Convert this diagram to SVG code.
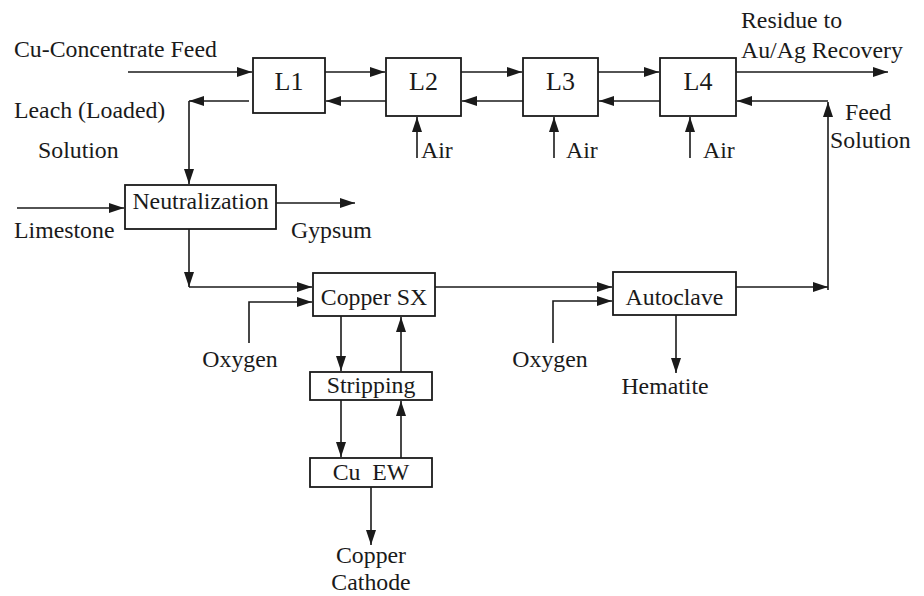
<svg xmlns="http://www.w3.org/2000/svg" width="924" height="596" viewBox="0 0 924 596">
<style>
text{font-family:"Liberation Serif","Times New Roman",serif;font-size:23.8px;fill:#1a1a1a}
.big{font-size:26px}
.c{text-anchor:middle}
rect{fill:#fff;stroke:#1a1a1a;stroke-width:1.8}
.ln{fill:none;stroke:#1a1a1a;stroke-width:1.6;marker-end:url(#ah)}
</style>
<defs>
<marker id="ah" markerUnits="userSpaceOnUse" markerWidth="16" markerHeight="12" refX="15" refY="5" orient="auto">
<path d="M0,0 L15,5 L0,10 z" fill="#1a1a1a"/>
</marker>
</defs>
<g id="connectors">
<path class="ln" d="M128,72 H252"/>
<path class="ln" d="M325,72 H385"/>
<path class="ln" d="M461,72 H522"/>
<path class="ln" d="M598,72 H659"/>
<path class="ln" d="M736,72 H888"/>
<path class="ln" d="M386,101 H326"/>
<path class="ln" d="M523,101 H462"/>
<path class="ln" d="M660,101 H599"/>
<path class="ln" d="M828,101 H737"/>
<path class="ln" d="M249,101 H189"/>
<path class="ln" d="M189,101 V184"/>
<path class="ln" d="M417,158 V117"/>
<path class="ln" d="M554,158 V117"/>
<path class="ln" d="M690,158 V117"/>
<path class="ln" d="M17,208 H124"/>
<path class="ln" d="M276,203 H355"/>
<path class="ln" d="M189,229 V287"/>
<path class="ln" d="M189,287 H312"/>
<path class="ln" d="M249,343 V302 H312"/>
<path class="ln" d="M435,287 H612"/>
<path class="ln" d="M553,343 V301 H612"/>
<path class="ln" d="M676,315 V373"/>
<path class="ln" d="M736,287 H828"/>
<path class="ln" d="M828,290 V102"/>
<path class="ln" d="M341,316 V371"/>
<path class="ln" d="M401,372 V317"/>
<path class="ln" d="M341,400 V457"/>
<path class="ln" d="M401,458 V401"/>
<path class="ln" d="M371,487 V545"/>
</g>
<g id="L1"><rect x="253" y="58" width="72" height="55"/><text class="big c" x="289" y="90">L1</text></g>
<g id="L2"><rect x="386" y="58" width="75" height="58"/><text class="big c" x="423.5" y="90">L2</text></g>
<g id="L3"><rect x="523" y="58" width="75" height="58"/><text class="big c" x="560.5" y="90">L3</text></g>
<g id="L4"><rect x="660" y="58" width="76" height="58"/><text class="big c" x="698" y="90">L4</text></g>
<g id="neutralization"><rect x="125" y="185" width="151" height="44"/><text class="c" x="200.5" y="209">Neutralization</text></g>
<g id="copper-sx"><rect x="313" y="273" width="122" height="43"/><text class="c" x="374" y="305">Copper SX</text></g>
<g id="stripping"><rect x="310" y="372" width="122" height="28"/><text class="c" x="371" y="393">Stripping</text></g>
<g id="cu-ew"><rect x="310" y="458" width="122" height="29"/><text class="c" x="371" y="480" xml:space="preserve">Cu  EW</text></g>
<g id="autoclave"><rect x="613" y="272" width="123" height="43"/><text class="c" x="674.5" y="305">Autoclave</text></g>
<g id="labels">
<text x="14" y="57">Cu-Concentrate Feed</text>
<text x="14" y="118">Leach (Loaded)</text>
<text x="38" y="158">Solution</text>
<text x="421" y="158">Air</text>
<text x="566" y="158">Air</text>
<text x="703" y="158">Air</text>
<text x="741" y="28">Residue to</text>
<text x="741" y="58">Au/Ag Recovery</text>
<text x="845" y="120">Feed</text>
<text x="830" y="148">Solution</text>
<text x="14" y="238">Limestone</text>
<text x="291" y="238">Gypsum</text>
<text class="c" x="240" y="367">Oxygen</text>
<text class="c" x="550" y="367">Oxygen</text>
<text class="c" x="665" y="394">Hematite</text>
<text class="c" x="371" y="563">Copper</text>
<text class="c" x="371" y="590">Cathode</text>
</g>
</svg>
